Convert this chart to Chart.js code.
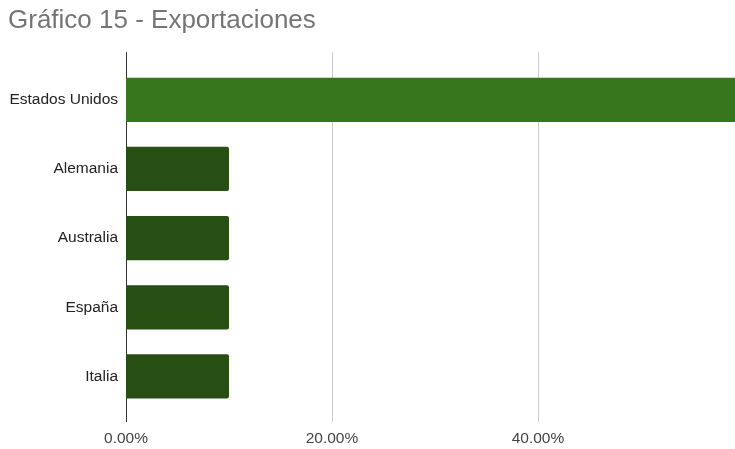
<!DOCTYPE html>
<html>
<head>
<meta charset="utf-8">
<script src="https://cdn.jsdelivr.net/npm/chart.js@4"></script>
<style>
  html, body { margin: 0; padding: 0; background: #fff; }
  #wrap { width: 735px; height: 449px; }
</style>
</head>
<body>
<div id="wrap"><canvas id="exportChart"></canvas></div>
<script>
// Data
const countries = ['Estados Unidos', 'Alemania', 'Australia', 'España', 'Italia'];
const shares = [60, 10, 10, 10, 10];
const barColors = ['#38761d', '#274e13', '#274e13', '#274e13', '#274e13'];
const tickValues = [0, 20, 40];
const axisMax = 59.13;

// vertical grid lines run a bit above and below the plot, like the original
const gridLines = {
    id: 'gridLines',
    beforeDatasetsDraw(chart) {
        const { ctx, chartArea, scales } = chart;
        ctx.save();
        ctx.lineWidth = 1;
        scales.x.ticks.forEach(t => {
            const px = Math.round(scales.x.getPixelForValue(t.value)) + 0.5;
            ctx.strokeStyle = t.value === 0 ? '#333333' : '#cccccc';
            ctx.beginPath();
            ctx.moveTo(px, chartArea.top - 13);
            ctx.lineTo(px, chartArea.bottom + 11);
            ctx.stroke();
        });
        ctx.restore();
    }
};

new Chart(document.getElementById('exportChart'), {
    type: 'bar',
    data: {
        labels: countries,
        datasets: [{
            data: shares,
            backgroundColor: barColors,
            borderRadius: 2,
            borderSkipped: 'start',
            barPercentage: 1,
            categoryPercentage: 0.64
        }]
    },
    options: {
        indexAxis: 'y',
        responsive: true,
        maintainAspectRatio: false,
        animation: false,
        layout: { padding: { left: 8, right: 0, top: 0, bottom: 0 } },
        scales: {
            x: {
                min: 0,
                max: axisMax,
                afterBuildTicks: axis => {
                    axis.ticks = tickValues.map(v => ({ value: v }));
                },
                afterFit: axis => { axis.height = 38; },
                grid: { display: false, drawTicks: false },
                border: { display: false },
                ticks: {
                    padding: 18,
                    color: '#444444',
                    font: { family: '"Liberation Sans", Arial, sans-serif', size: 15.5 },
                    callback: v => Number(v).toFixed(2) + '%'
                }
            },
            y: {
                afterFit: axis => { axis.width = 118; },
                grid: { display: false, drawTicks: false },
                border: { display: false },
                ticks: {
                    padding: 8,
                    color: '#222222',
                    font: { family: '"Liberation Sans", Arial, sans-serif', size: 15.5 }
                }
            }
        },
        plugins: {
            legend: { display: false },
            tooltip: { enabled: false },
            title: {
                display: true,
                text: 'Gráfico 15 - Exportaciones',
                align: 'start',
                color: '#757575',
                font: { family: '"Liberation Sans", Arial, sans-serif', size: 26, weight: 'normal' },
                padding: { top: 5, bottom: 29 }
            }
        }
    },
    plugins: [gridLines]
});
</script>
</body>
</html>
